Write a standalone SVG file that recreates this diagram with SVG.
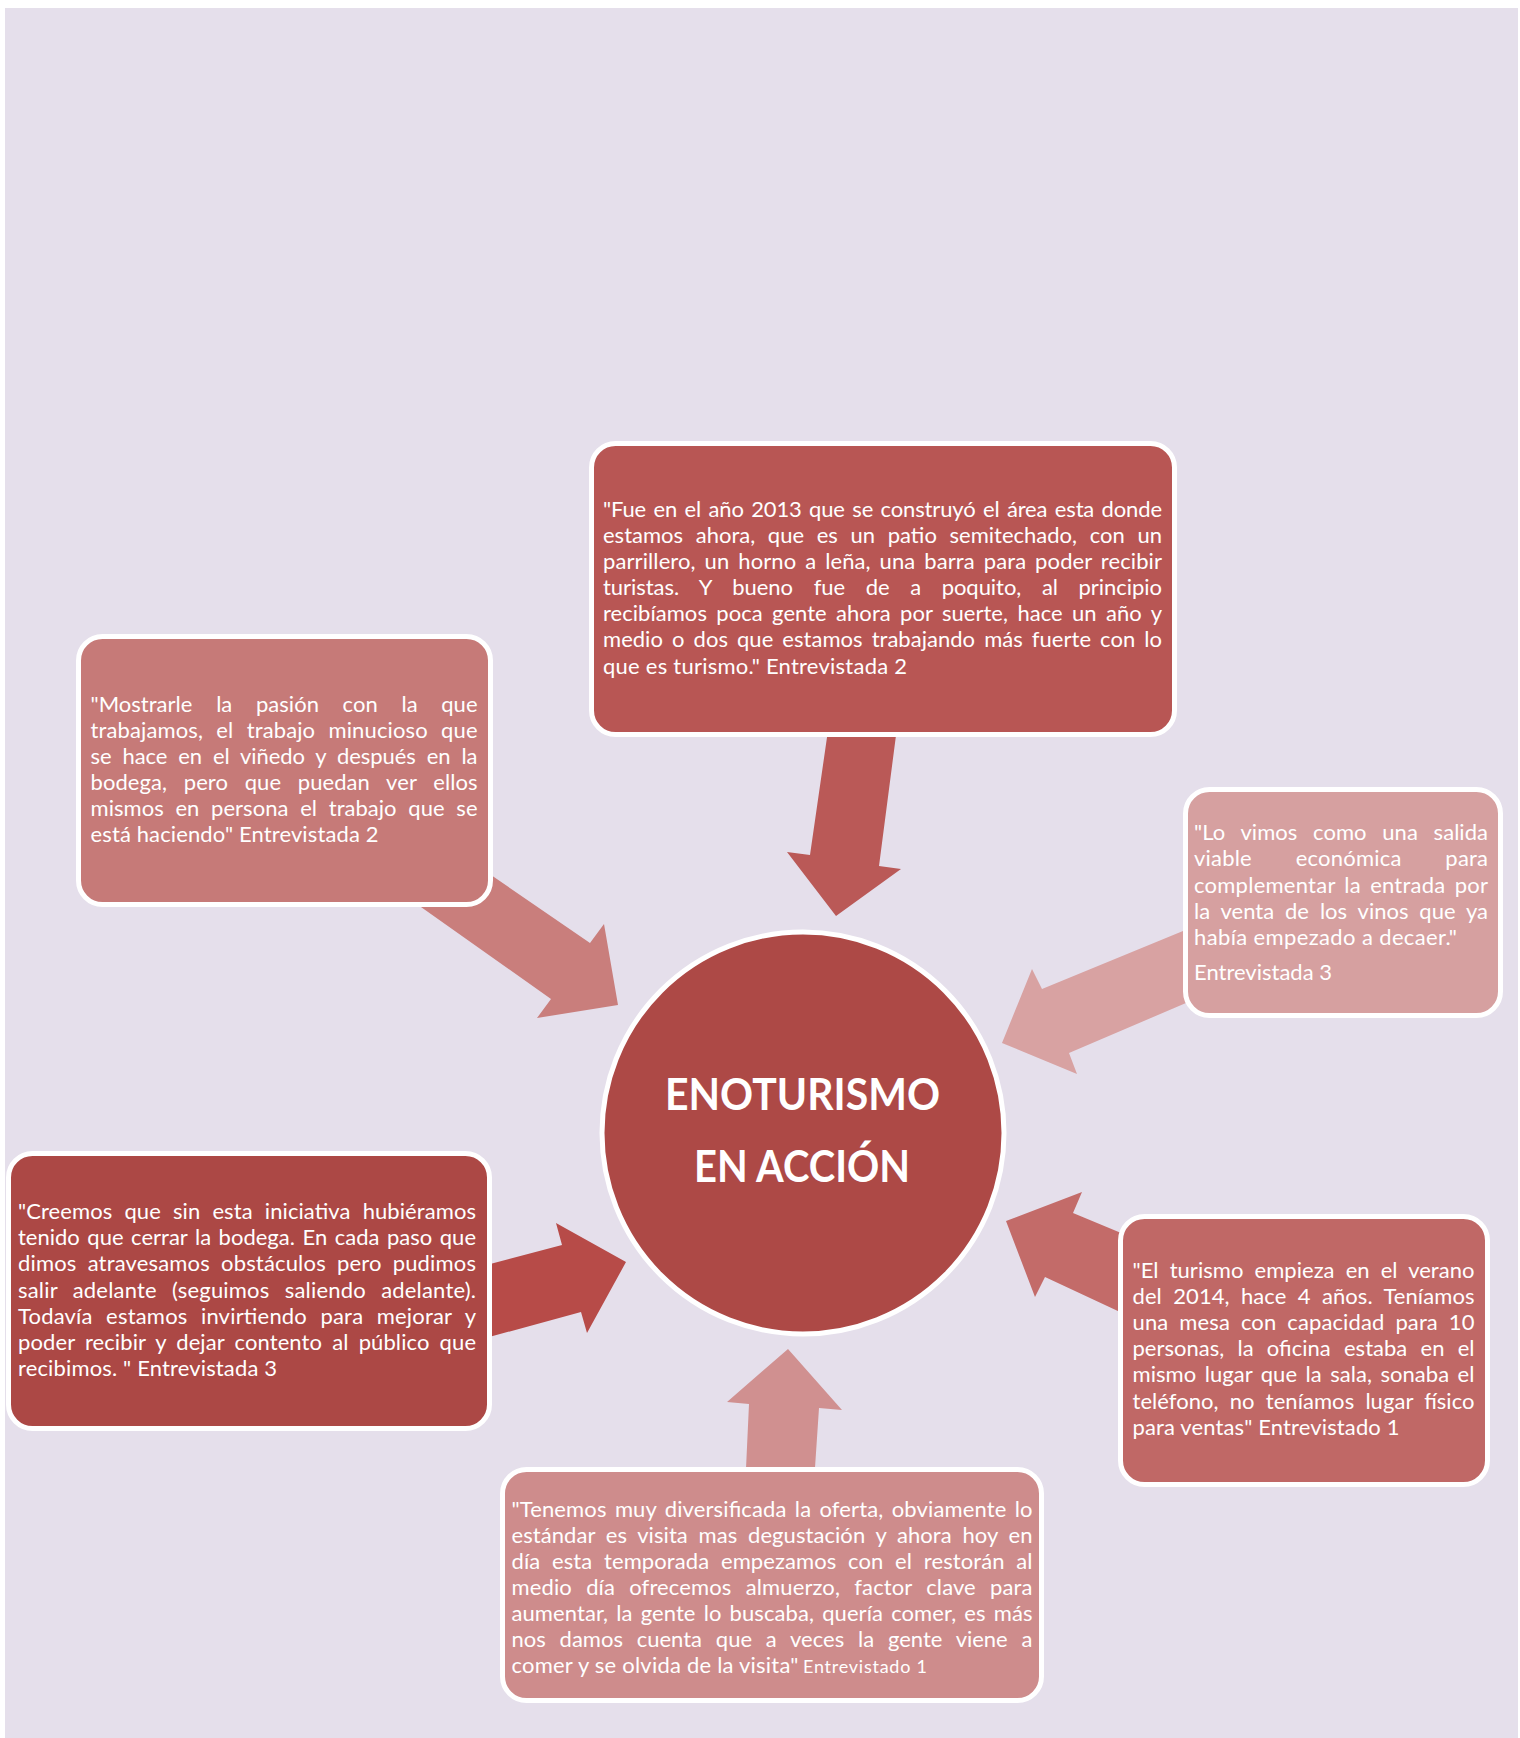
<svg xmlns="http://www.w3.org/2000/svg" width="1520" height="1738" viewBox="0 0 1520 1738">
<style>
.box{stroke:#FFFFFF;stroke-width:5}
.t{font-family:Lato,"Open Sans","Liberation Sans",sans-serif;font-size:22px;fill:#FFFFFF}
.s{font-size:18px}
.title{font-family:Lato,"Open Sans","Liberation Sans",sans-serif;font-size:44px;font-weight:bold;fill:#FFFFFF}
</style>
<rect x="0" y="0" width="1520" height="1738" fill="#FFFFFF"/>
<rect x="5" y="8" width="1513" height="1730" fill="#E5DFEB"/>
<g id="connectors">
  <polygon id="arrow-top" fill="#BA5957" points="829.5,720 898,720 879,866 901,869 836,916 787,852 810,855"/>
  <polygon id="arrow-lefttop" fill="#C97E7C" points="440,840 590,943 604,924 618,1005 537,1018 551,999 380,878"/>
  <polygon id="arrow-right" fill="#D8A2A2" points="1200,924 1042,989 1032,969 1002,1043 1077,1074 1069,1053 1200,997"/>
  <polygon id="arrow-rightbottom" fill="#C36B69" points="1150,1245 1073,1213 1082,1192 1006,1221 1035,1297 1045,1277 1150,1326"/>
  <polygon id="arrow-leftbottom" fill="#B74B48" points="460,1272 562,1245 556,1223 626,1262 587,1333 581,1312 460,1345"/>
  <polygon id="arrow-bottom" fill="#D09090" points="745,1490 749,1404 727,1402 788,1349 842,1410 819,1408 813.5,1490"/>
</g>
<g id="center">
  <circle cx="803" cy="1133" r="201" fill="#AD4946" stroke="#FFFFFF" stroke-width="5"/>
  <text class="title" x="802.5" y="1110" text-anchor="middle" textLength="275" lengthAdjust="spacingAndGlyphs">ENOTURISMO</text>
  <text class="title" x="802" y="1182" text-anchor="middle" textLength="216" lengthAdjust="spacingAndGlyphs">EN ACCIÓN</text>
</g>
<g id="node-top">
  <rect class="box" x="591.5" y="443.5" width="583" height="291" rx="24" fill="#B85654"/>
  <text class="t" x="603" y="517" textLength="559" lengthAdjust="spacing" word-spacing="2">"Fue en el año 2013 que se construyó el área esta donde</text>
  <text class="t" x="603" y="543" textLength="559" lengthAdjust="spacing" word-spacing="7">estamos ahora, que es un patio semitechado, con un</text>
  <text class="t" x="603" y="569" textLength="559" lengthAdjust="spacing" word-spacing="3.2">parrillero, un horno a leña, una barra para poder recibir</text>
  <text class="t" x="603" y="595" textLength="559" lengthAdjust="spacing" word-spacing="15">turistas. Y bueno fue de a poquito, al principio</text>
  <text class="t" x="603" y="621" textLength="559" lengthAdjust="spacing" word-spacing="3.7">recibíamos poca gente ahora por suerte, hace un año y</text>
  <text class="t" x="603" y="647" textLength="559" lengthAdjust="spacing" word-spacing="3.4">medio o dos que estamos trabajando más fuerte con lo</text>
  <text class="t" x="603" y="674" textLength="304" lengthAdjust="spacing">que es turismo." Entrevistada 2</text>
</g>
<g id="node-lefttop">
  <rect class="box" x="78.5" y="636.5" width="412" height="268" rx="24" fill="#C67A78"/>
  <text class="t" x="90.5" y="712" textLength="387" lengthAdjust="spacing" word-spacing="18">"Mostrarle la pasión con la que</text>
  <text class="t" x="90.5" y="738" textLength="387" lengthAdjust="spacing" word-spacing="7.5">trabajamos, el trabajo minucioso que</text>
  <text class="t" x="90.5" y="764" textLength="387" lengthAdjust="spacing" word-spacing="5.4">se hace en el viñedo y después en la</text>
  <text class="t" x="90.5" y="790" textLength="387" lengthAdjust="spacing" word-spacing="11">bodega, pero que puedan ver ellos</text>
  <text class="t" x="90.5" y="816" textLength="387" lengthAdjust="spacing" word-spacing="6">mismos en persona el trabajo que se</text>
  <text class="t" x="90.5" y="842" textLength="288" lengthAdjust="spacing">está haciendo" Entrevistada 2</text>
</g>
<g id="node-right">
  <rect class="box" x="1185.5" y="789.5" width="315" height="226" rx="24" fill="#D6A0A0"/>
  <text class="t" x="1194" y="840" textLength="294" lengthAdjust="spacing" word-spacing="10">"Lo vimos como una salida</text>
  <text class="t" x="1194" y="866" textLength="294" lengthAdjust="spacing" word-spacing="38">viable económica para</text>
  <text class="t" x="1194" y="892.5" textLength="294" lengthAdjust="spacing" word-spacing="3.3">complementar la entrada por</text>
  <text class="t" x="1194" y="918.5" textLength="294" lengthAdjust="spacing" word-spacing="5.3">la venta de los vinos que ya</text>
  <text class="t" x="1194" y="944.5" textLength="263" lengthAdjust="spacing">había empezado a decaer."</text>
  <text class="t" x="1194" y="980" textLength="138" lengthAdjust="spacing">Entrevistada 3</text>
</g>
<g id="node-leftbottom">
  <rect class="box" x="8.5" y="1153.5" width="481" height="275" rx="24" fill="#AC4845"/>
  <text class="t" x="18" y="1219" textLength="458" lengthAdjust="spacing" word-spacing="6.4">"Creemos que sin esta iniciativa hubiéramos</text>
  <text class="t" x="18" y="1245" textLength="458" lengthAdjust="spacing" word-spacing="1.9">tenido que cerrar la bodega. En cada paso que</text>
  <text class="t" x="18" y="1271" textLength="458" lengthAdjust="spacing" word-spacing="5.3">dimos atravesamos obstáculos pero pudimos</text>
  <text class="t" x="18" y="1297.5" textLength="458" lengthAdjust="spacing" word-spacing="9.5">salir adelante (seguimos saliendo adelante).</text>
  <text class="t" x="18" y="1323.5" textLength="458" lengthAdjust="spacing" word-spacing="7.6">Todavía estamos invirtiendo para mejorar y</text>
  <text class="t" x="18" y="1349.5" textLength="458" lengthAdjust="spacing" word-spacing="4.4">poder recibir y dejar contento al público que</text>
  <text class="t" x="18" y="1376" textLength="259" lengthAdjust="spacing">recibimos. " Entrevistada 3</text>
</g>
<g id="node-rightbottom">
  <rect class="box" x="1120.5" y="1216.5" width="367" height="268" rx="24" fill="#C06866"/>
  <text class="t" x="1132.5" y="1277.5" textLength="342" lengthAdjust="spacing" word-spacing="5.4">"El turismo empieza en el verano</text>
  <text class="t" x="1132.5" y="1303.5" textLength="342" lengthAdjust="spacing" word-spacing="5.6">del 2014, hace 4 años. Teníamos</text>
  <text class="t" x="1132.5" y="1330" textLength="342" lengthAdjust="spacing" word-spacing="5.2">una mesa con capacidad para 10</text>
  <text class="t" x="1132.5" y="1356" textLength="342" lengthAdjust="spacing" word-spacing="7.6">personas, la oficina estaba en el</text>
  <text class="t" x="1132.5" y="1382" textLength="342" lengthAdjust="spacing" word-spacing="2.7">mismo lugar que la sala, sonaba el</text>
  <text class="t" x="1132.5" y="1408.5" textLength="342" lengthAdjust="spacing" word-spacing="5.5">teléfono, no teníamos lugar físico</text>
  <text class="t" x="1132.5" y="1435" textLength="267" lengthAdjust="spacing">para ventas" Entrevistado 1</text>
</g>
<g id="node-bottom">
  <rect class="box" x="502.5" y="1469.5" width="539" height="231" rx="24" fill="#CE8C8C"/>
  <text class="t" x="511.5" y="1516.5" textLength="521" lengthAdjust="spacing" word-spacing="2.5">"Tenemos muy diversificada la oferta, obviamente lo</text>
  <text class="t" x="511.5" y="1542.5" textLength="521" lengthAdjust="spacing" word-spacing="5">estándar es visita mas degustación y ahora hoy en</text>
  <text class="t" x="511.5" y="1568.5" textLength="521" lengthAdjust="spacing" word-spacing="5.9">día esta temporada empezamos con el restorán al</text>
  <text class="t" x="511.5" y="1594.5" textLength="521" lengthAdjust="spacing" word-spacing="8.5">medio día ofrecemos almuerzo, factor clave para</text>
  <text class="t" x="511.5" y="1620.5" textLength="521" lengthAdjust="spacing" word-spacing="2.4">aumentar, la gente lo buscaba, quería comer, es más</text>
  <text class="t" x="511.5" y="1646.5" textLength="521" lengthAdjust="spacing" word-spacing="8.2">nos damos cuenta que a veces la gente viene a</text>
  <text class="t" x="511.5" y="1672.5" textLength="287" lengthAdjust="spacing">comer y se olvida de la visita"</text>
  <text class="t s" x="803" y="1672.5" textLength="124" lengthAdjust="spacing">Entrevistado 1</text>
</g>
</svg>
